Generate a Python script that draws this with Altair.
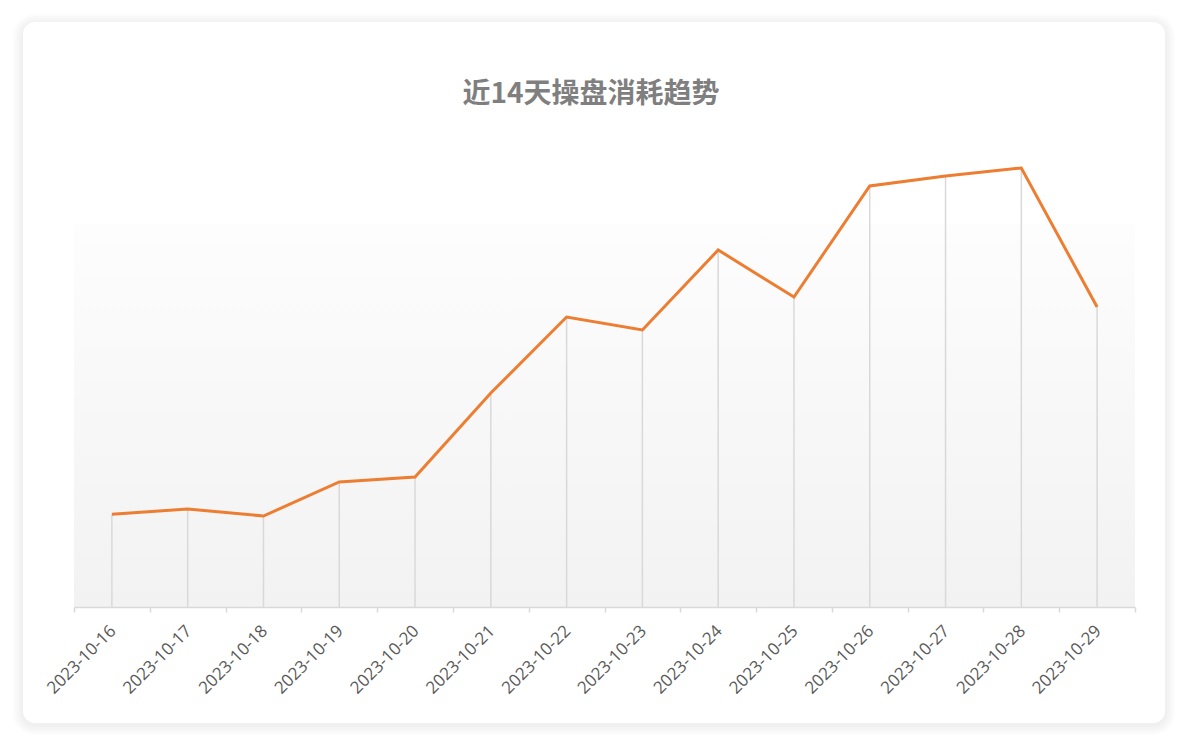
import pandas as pd
import altair as alt

# daily spend, last 14 days
dates = ['2023-10-16', '2023-10-17', '2023-10-18', '2023-10-19', '2023-10-20',
         '2023-10-21', '2023-10-22', '2023-10-23', '2023-10-24', '2023-10-25',
         '2023-10-26', '2023-10-27', '2023-10-28', '2023-10-29']
spend = [927, 980, 910, 1250, 1300, 2140, 2900, 2770, 3570, 3100, 4210, 4310, 4390, 3000]

df = pd.DataFrame({
    'date': dates,
    'spend': spend,
    'pos': [i + 0.5 for i in range(len(dates))],
})
one = pd.DataFrame({'k': [0]})

W, H = 1061, 477
x_scale = alt.Scale(domain=[0, len(dates)], nice=False, zero=False)
y_scale = alt.Scale(domain=[0, 4770], nice=False)

# card with a soft shadow
shadow = alt.layer(*[
    alt.Chart(one).mark_rect(cornerRadius=12 + s, fill='#000000', opacity=0.012).encode(
        x=alt.value(-51 - s), x2=alt.value(1091 + s),
        y=alt.value(-108 - s + 2), y2=alt.value(593 + s + 2)
    ) for s in [2, 4, 6, 8, 10]
])
card = alt.Chart(one).mark_rect(cornerRadius=12, fill='white').encode(
    x=alt.value(-51), x2=alt.value(1091), y=alt.value(-108), y2=alt.value(593)
)

bg = alt.Chart(one).mark_rect(
    fill=alt.Gradient(
        gradient='linear',
        stops=[alt.GradientStop(color='#fdfdfd', offset=0),
               alt.GradientStop(color='#f2f2f2', offset=1)],
        x1=0, x2=0, y1=0, y2=1
    )
).encode(x=alt.value(0), x2=alt.value(W), y=alt.value(94), y2=alt.value(H))

title = alt.Chart(one).mark_text(
    text='近14天操盘消耗趋势', font='Noto Sans CJK SC', fontSize=28,
    fontWeight='bold', color='#7f7f7f', align='center', baseline='middle'
).encode(x=alt.value(517), y=alt.value(-35))

x_axis = alt.Axis(values=list(range(len(dates) + 1)), labels=False, title=None,
                  grid=False, ticks=True, tickSize=5, tickColor='#d9d9d9',
                  tickWidth=1.5, domainColor='#d9d9d9', domainWidth=1.5, zindex=1)

drops = alt.Chart(df).mark_rule(color='#d9d9d9', strokeWidth=1.5).encode(
    x=alt.X('pos:Q', scale=x_scale, axis=x_axis),
    y=alt.Y('spend:Q', scale=y_scale, axis=None),
    y2=alt.datum(0)
)

line = alt.Chart(df).mark_line(color='#ED7D31', strokeWidth=3).encode(
    x=alt.X('pos:Q', scale=x_scale, axis=x_axis),
    y=alt.Y('spend:Q', scale=y_scale, axis=None)
)

labels = alt.Chart(df).mark_text(
    angle=315, align='right', baseline='middle', font='Open Sans',
    fontSize=17, color='#595959', dx=2
).encode(
    x=alt.X('pos:Q', scale=x_scale, axis=x_axis),
    y=alt.value(H + 23),
    text='date:N'
)

chart = alt.layer(shadow, card, bg, title, drops, line, labels).properties(
    width=W, height=H,
    padding={'left': 66, 'top': 122, 'right': 44, 'bottom': 129},
    autosize=alt.AutoSizeParams(type='none')
).configure_view(stroke=None).configure(background='white')

chart.save("out.html", embed_options={"renderer": "svg", "actions": False})
